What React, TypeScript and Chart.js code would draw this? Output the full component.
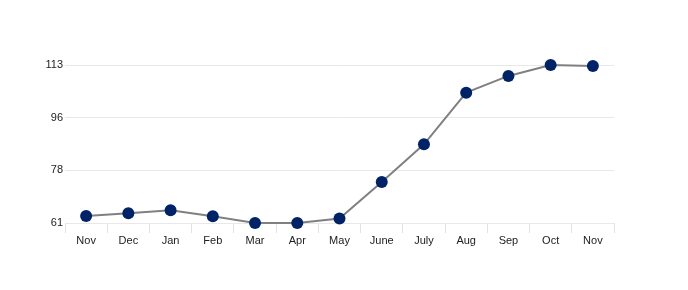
import React, { useEffect, useRef } from "react";
import { Chart, registerables } from "chart.js";

Chart.register(...registerables);

const months = ["Nov", "Dec", "Jan", "Feb", "Mar", "Apr", "May", "June", "July", "Aug", "Sep", "Oct", "Nov"];
const values = [63.3, 64.2, 65.2, 63.2, 61, 61, 62.5, 74.5, 86.9, 103.9, 109.4, 113, 112.7];
const yTickValues = [61, 78.333, 95.667, 113];
const yTickLabels = ["61", "78", "96", "113"];

export default function App() {
  const ref = useRef<HTMLCanvasElement | null>(null);
  useEffect(() => {
    if (!ref.current) return;
    const font = { family: "Arial, 'Liberation Sans', sans-serif", size: 11 };
    const chart = new Chart(ref.current, {
      type: "line",
      data: {
        labels: months,
        datasets: [
          {
            data: values,
            borderColor: "#808080",
            borderWidth: 2,
            pointBackgroundColor: "#002266",
            pointBorderColor: "#002266",
            pointRadius: 6,
            pointBorderWidth: 0,
            tension: 0,
            clip: false as any,
          },
        ],
      },
      options: {
        animation: false,
        responsive: false,
        maintainAspectRatio: false,
        layout: { autoPadding: false, padding: { top: 65, right: 74, left: 1, bottom: 37 } } as any,
        plugins: { legend: { display: false }, tooltip: { enabled: false } },
        scales: {
          x: {
            offset: true,
            border: { display: false },
            grid: { offset: true, drawOnChartArea: false, drawTicks: true, tickLength: 10, color: "#e3e3e3" },
            ticks: { font, color: "#222", padding: 1, maxRotation: 0, autoSkip: false },
            afterFit: (s: any) => { s.height = 30; },
          },
          y: {
            min: 61,
            max: 113,
            border: { display: false },
            grid: { drawTicks: false, color: "#e8e8e8" },
            ticks: {
              font,
              color: "#222",
              padding: 2,
              callback: (v: any) => {
                const i = yTickValues.findIndex((t) => Math.abs(t - v) < 0.01);
                return i >= 0 ? yTickLabels[i] : "";
              },
            },
            afterBuildTicks: (s: any) => { s.ticks = yTickValues.map((v) => ({ value: v })); },
            afterFit: (s: any) => { s.width = 64; },
          },
        },
      },
    });
    return () => chart.destroy();
  }, []);
  return (
    <div style={{ position: "absolute", left: 0, top: 0, width: 688, height: 290, background: "#fff" }}>
      <canvas ref={ref} width={688} height={290} style={{ width: 688, height: 290 }} />
    </div>
  );
}
